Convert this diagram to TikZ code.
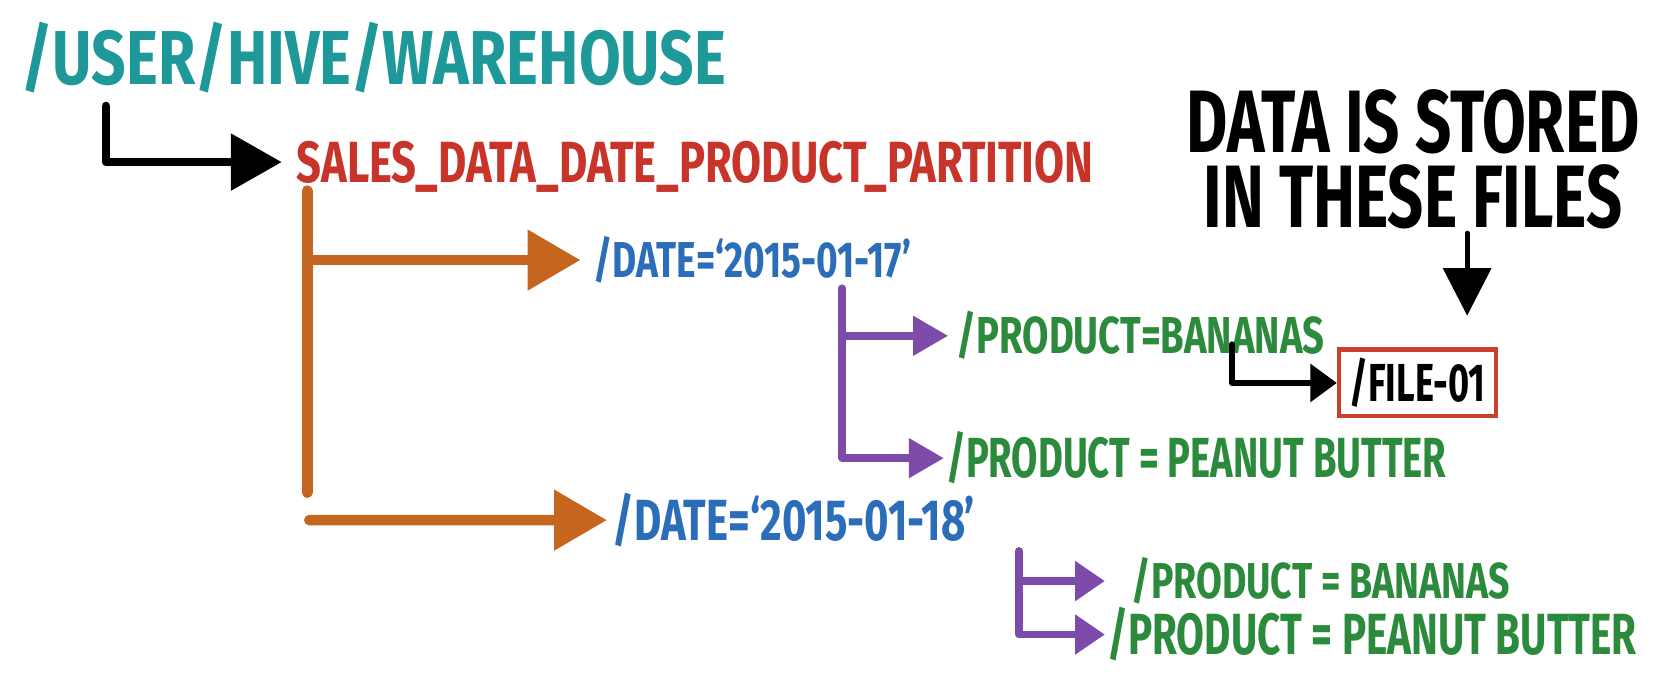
\documentclass[tikz,border=0pt]{standalone}
\usepackage{fontspec}
\setmainfont{Fira Sans}
\usepackage{graphicx}
\usetikzlibrary{arrows.meta}
\definecolor{teal1}{HTML}{1E9898}
\definecolor{red1}{HTML}{C8342A}
\definecolor{orange1}{HTML}{C4661F}
\definecolor{blue1}{HTML}{2C6DB9}
\definecolor{purple1}{HTML}{7D4BAA}
\definecolor{green1}{HTML}{2B8A3C}
\definecolor{boxred}{HTML}{C8402F}
\newcommand\fitt[3]{\resizebox{#1}{#2}{\vphantom{H}\smash{#3}}}
\begin{document}
\begin{tikzpicture}[x=1pt,y=-1pt,
  lbl/.style={anchor=base west, inner sep=0pt, font=\bfseries},
  conn/.style={line cap=round, line join=round},
  blackbig/.style={conn, draw=black, line width=8pt, -{Triangle[length=48pt,width=52pt]}},
  orangearr/.style={conn, draw=orange1, line width=10pt, -{Triangle[length=50pt,width=55pt]}},
  orangeline/.style={conn, draw=orange1, line width=10pt},
  purplearr/.style={conn, draw=purple1, line width=7pt, -{Triangle[length=33pt,width=36pt]}},
  purplesmall/.style={conn, draw=purple1, line width=7pt, -{Triangle[length=28pt,width=36pt]}},
  blacksmall/.style={conn, draw=black, line width=5.5pt, -{Triangle[length=25pt,width=35pt]}},
  blackdown/.style={conn, draw=black, line width=4.5pt, -{Triangle[length=45pt,width=45pt]}}
]
\useasboundingbox (0,0) rectangle (1568,635);

% texts
\node[lbl, text=teal1] (title) at (20,80) {\fitt{665pt}{50pt}{/USER/HIVE/WAREHOUSE}};
\node[lbl, text=red1] (sales) at (280,172) {\fitt{752pt}{38pt}{SALES\_DATA\_DATE\_PRODUCT\_PARTITION}};
\node[lbl, text=blue1] (date1) at (560,262) {\fitt{300pt}{33pt}{/DATE=‘2015-01-17’}};
\node[lbl, text=blue1] (date2) at (578,510) {\fitt{342pt}{38pt}{/DATE=‘2015-01-18’}};
\node[lbl, text=green1] (prodb1) at (903,334) {\fitt{347pt}{34pt}{/PRODUCT=BANANAS}};
\node[lbl, text=green1] (prodpb1) at (893,451) {\fitt{472pt}{37pt}{/PRODUCT = PEANUT BUTTER}};
\node[lbl, text=green1] (prodb2) at (1068,565) {\fitt{357pt}{33pt}{/PRODUCT = BANANAS}};
\node[lbl, text=green1] (prodpb2) at (1045,618) {\fitt{500pt}{38pt}{/PRODUCT = PEANUT BUTTER}};
\node[draw=boxred, line width=4pt, anchor=west, inner xsep=10pt, inner ysep=0pt,
      minimum height=63pt, font=\bfseries] (file) at (1262,361.5)
      {\fitt{128pt}{35pt}{/FILE-01}\hspace{25pt}};
\node[anchor=north, inner sep=0pt, align=center, font=\bfseries\fontsize{10}{71}\selectfont] (note) at (1334,86)
      {\fitt{428pt}{58pt}{DATA IS STORED}\\\fitt{395pt}{58pt}{IN THESE FILES}};

% coordinates
\coordinate (b0) at (100,100);
\coordinate (o0) at (290,180);
\coordinate (o1) at (290,465);
\coordinate (o2) at (292,491);
\coordinate (p0) at (795,272);
\coordinate (f0) at (1163,325);
\coordinate (d0) at (1385,220);
\coordinate (q0) at (962,520);

% connectors
\draw[blackbig, shorten >=14pt] (b0) |- (sales.west);
\draw[orangeline] (o0) -- (o1);
\draw[orangearr, shorten >=12pt] (o0 |- date1.west) -- (date1.west);
\draw[orangearr, shorten >=5pt] (o2) -- (date2.west);
\draw[purplearr, shorten >=8pt] (p0 |- prodb1.west) -- (prodb1.west);
\draw[purplearr, shorten >=2pt] (p0) |- (prodpb1.west);
\draw[blacksmall, shorten >=0pt] (f0) |- (file.west);
\draw[blackdown, shorten >=30pt] (d0) -- (d0 |- file.north);
\draw[purplesmall, shorten >=25pt] (q0 |- prodb2.west) -- (prodb2.west);
\draw[purplesmall, shorten >=2pt] (q0) |- (prodpb2.west);
\end{tikzpicture}
\end{document}
